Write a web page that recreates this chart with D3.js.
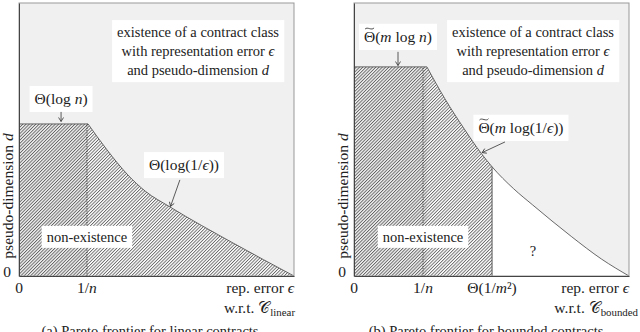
<!DOCTYPE html>
<html>
<head>
<meta charset="utf-8">
<script src="https://cdn.jsdelivr.net/npm/d3@7"></script>
<style>
body { margin: 0; background: #fff; }
</style>
</head>
<body>
<svg id="chart" width="640" height="332"></svg>
<script>
// values, both axes normalised to [0,1]
var linearEps = [0.251, 0.32, 0.396, 0.46, 0.549, 0.778, 1];
var linearDim = [0.557, 0.462, 0.37, 0.31, 0.253, 0.121, 0];
var linearOneOverN = 0.247;

var boundedEps = [0.265, 0.33, 0.40, 0.462, 0.502, 0.58, 0.65, 0.79, 0.90, 1];
var boundedDim = [0.766, 0.65, 0.54, 0.45, 0.40, 0.32, 0.26, 0.145, 0.062, 0];
var boundedOneOverN = 0.251;
var boundedCut = 0.502;   // Θ(1/m²)

var linearTicks = [0, linearOneOverN];
var linearTickLabels = [[["0"]], [["1/"], ["n", "i"]]];
var boundedTicks = [0, boundedOneOverN, boundedCut];
var boundedTickLabels = [[["0"]], [["1/"], ["n", "i"]], [["Θ(1/"], ["m", "i"], ["²)"]]];

var svg = d3.select("#chart");
var defs = svg.append("defs");

var hatch = defs.append("pattern")
    .attr("id", "hatch")
    .attr("patternUnits", "userSpaceOnUse")
    .attr("width", 2.3).attr("height", 2.3)
    .attr("patternTransform", "rotate(45)");
hatch.append("line")
    .attr("x1", 0.5).attr("y1", 0).attr("x2", 0.5).attr("y2", 2.3)
    .attr("stroke", "#3a3a3a").attr("stroke-width", 0.7);

defs.append("marker")
    .attr("id", "arr")
    .attr("viewBox", "-5 -3 6 6")
    .attr("refX", 0).attr("refY", 0)
    .attr("markerWidth", 6).attr("markerHeight", 6)
    .attr("markerUnits", "userSpaceOnUse")
    .attr("orient", "auto")
  .append("path")
    .attr("d", "M-4,-2.5L0,0L-4,2.5")
    .attr("fill", "none").attr("stroke", "#333").attr("stroke-width", 0.8);

// text made of parts: [string, style]; "t" = letter with a tilde on top
function rich(g, x, y, parts, anchor, size) {
    size = size || 14;
    var t = g.append("text")
        .attr("x", x).attr("y", y)
        .attr("text-anchor", anchor || "middle")
        .style("font-family", "Liberation Serif")
        .style("font-size", size + "px")
        .attr("fill", "#222");
    var tildes = [];
    var pos = 0;
    parts.forEach(function (p) {
        var s = t.append("tspan").text(p[0]);
        if (p[1] == "i") s.style("font-style", "italic");
        if (p[1] == "sub") s.attr("dy", 3).style("font-size", (size * 0.7) + "px");
        if (p[1] == "t") tildes.push(pos);
        pos += p[0].length;
    });
    tildes.forEach(function (k) {
        var n = t.node();
        var a = n.getStartPositionOfChar(k), b = n.getEndPositionOfChar(k);
        var cx = (a.x + b.x) / 2, w = (b.x - a.x) * 0.8, ty = a.y - size * 0.9;
        g.append("path")
            .attr("d", "M" + (cx - w / 2) + "," + (ty + 1) +
                "C" + (cx - w / 4) + "," + (ty - 1.8) + " " + (cx + w / 4) + "," + (ty + 3) + " " + (cx + w / 2) + "," + (ty - 0.3))
            .attr("fill", "none").attr("stroke", "#222").attr("stroke-width", 0.8);
    });
    return t;
}

// white box behind a few lines of text
function boxed(g, x, y, lines, pad, size) {
    var bg = g.append("g");
    var rect = bg.append("rect").attr("fill", "#fff");
    lines.forEach(function (l, i) { rich(bg, x, y + i * 19, l, "middle", size); });
    var b = bg.node().getBBox();
    rect.attr("x", b.x - pad[0]).attr("y", b.y - pad[1])
        .attr("width", b.width + 2 * pad[0]).attr("height", b.height + 2 * pad[1]);
}

function drawPanel(cfg) {
    var g = svg.append("g");
    var top = 3, bottom = 276;
    var x = d3.scaleLinear().domain([0, 1]).range([cfg.left, cfg.right]);
    var y = d3.scaleLinear().domain([0, 1]).range([bottom, top]);

    var pts = cfg.eps.map(function (e, i) { return [e, cfg.dim[i]]; });
    var plateau = cfg.dim[0];

    g.append("rect")
        .attr("x", x(0)).attr("y", y(1))
        .attr("width", x(1) - x(0)).attr("height", y(0) - y(1))
        .attr("fill", "#f0f0f0");

    var area = d3.area()
        .x(function (d) { return x(d[0]); })
        .y0(y(0))
        .y1(function (d) { return y(d[1]); })
        .curve(d3.curveMonotoneX);
    var line = d3.line()
        .x(function (d) { return x(d[0]); })
        .y(function (d) { return y(d[1]); })
        .curve(d3.curveMonotoneX);

    // under the curve: white where unknown
    g.append("path").attr("d", area(pts)).attr("fill", "#fff");

    var clipId = "clip" + cfg.id;
    defs.append("clipPath").attr("id", clipId)
      .append("rect")
        .attr("x", x(0)).attr("y", y(1))
        .attr("width", x(cfg.cut) - x(0)).attr("height", y(0) - y(1));

    var hg = g.append("g").attr("clip-path", "url(#" + clipId + ")");
    hg.append("rect")
        .attr("x", x(0)).attr("y", y(plateau))
        .attr("width", x(cfg.eps[0]) - x(0)).attr("height", y(0) - y(plateau))
        .attr("fill", "url(#hatch)");
    hg.append("path").attr("d", area(pts)).attr("fill", "url(#hatch)");

    // frontier
    g.append("line")
        .attr("x1", x(0)).attr("x2", x(cfg.eps[0]))
        .attr("y1", y(plateau)).attr("y2", y(plateau))
        .attr("stroke", "#444").attr("stroke-width", 0.8);
    g.append("path").attr("d", line(pts))
        .attr("fill", "none").attr("stroke", "#444").attr("stroke-width", 0.8);

    if (cfg.cut < 1) {
        var cutDim = cfg.dim[cfg.eps.indexOf(cfg.cut)];
        g.append("line")
            .attr("x1", x(cfg.cut)).attr("x2", x(cfg.cut))
            .attr("y1", y(0)).attr("y2", y(cutDim))
            .attr("stroke", "#555").attr("stroke-width", 1);
    }

    g.append("line")
        .attr("x1", x(cfg.oneOverN)).attr("x2", x(cfg.oneOverN))
        .attr("y1", y(0)).attr("y2", y(plateau))
        .attr("stroke", "#333").attr("stroke-width", 0.9)
        .attr("stroke-dasharray", "1,1.3");

    // frame
    g.append("rect")
        .attr("x", x(0)).attr("y", y(1))
        .attr("width", x(1) - x(0)).attr("height", y(0) - y(1))
        .attr("fill", "none").attr("stroke", "#999").attr("stroke-width", 1);

    g.append("g")
        .attr("transform", "translate(0," + y(0) + ")")
        .call(d3.axisBottom(x).tickValues([]).tickSizeOuter(0))
        .select(".domain").attr("stroke", "#444");
    g.append("g")
        .attr("transform", "translate(" + x(0) + ",0)")
        .call(d3.axisLeft(y).tickValues([]).tickSizeOuter(0))
        .select(".domain").attr("stroke", "#444");

    // tick labels
    var ts = 15.5;
    cfg.ticks.forEach(function (t, i) {
        rich(g, x(t), y(0) + 17, cfg.tickLabels[i], "middle", ts);
    });
    rich(g, x(0) - 12, y(0) + 1, [["0"]], "middle", ts);
    rich(g, x(1), y(0) + 17, [["rep. error "], ["ϵ", "i"]], "end", ts);
    rich(g, x(1) + cfg.wrtShift, y(0) + 37, [["w.r.t. "], ["𝒞"], [cfg.sub, "sub"]], "end", ts);

    rich(g, 0, 0, [["pseudo-dimension "], ["d", "i"]], "middle", ts)
        .attr("transform", "translate(" + (x(0) - 11) + ",196) rotate(-90)")
        .attr("dy", "0.35em");

    // annotations
    var a = cfg.notes;
    boxed(g, x(0.651), y(0.875), [
        [["existence of a contract class"]],
        [["with representation error "], ["ϵ", "i"]],
        [["and pseudo-dimension "], ["d", "i"]]
    ], [5, 4], 14.5);
    boxed(g, x(a.top[0]), y(a.top[1]), [a.topText], [5, 4], 15.5);
    g.append("line")
        .attr("x1", x(a.topArrow[0])).attr("y1", y(a.topArrow[1]))
        .attr("x2", x(a.topArrow[2])).attr("y2", y(a.topArrow[3]))
        .attr("stroke", "#333").attr("stroke-width", 0.8).attr("marker-end", "url(#arr)");
    boxed(g, x(a.curve[0]), y(a.curve[1]), [a.curveText], [5, 4], 15.5);
    g.append("line")
        .attr("x1", x(a.curveArrow[0])).attr("y1", y(a.curveArrow[1]))
        .attr("x2", x(a.curveArrow[2])).attr("y2", y(a.curveArrow[3]))
        .attr("stroke", "#333").attr("stroke-width", 0.8).attr("marker-end", "url(#arr)");
    boxed(g, x(a.none[0]), y(a.none[1]), [[["non-existence"]]], [5, 3], 14.5);
    if (a.unknown) rich(g, x(a.unknown[0]), y(a.unknown[1]), [["?"]], "middle", 14.5);

    rich(g, cfg.captionX, 336, cfg.caption, "middle", 14.5);
}

drawPanel({
    id: "a", left: 19, right: 294,
    eps: linearEps, dim: linearDim, cut: 1, oneOverN: linearOneOverN,
    ticks: linearTicks, tickLabels: linearTickLabels,
    sub: "linear", wrtShift: 1,
    captionX: 150,
    caption: [["(a) Pareto frontier for linear contracts"]],
    notes: {
        top: [0.153, 0.63], topText: [["Θ(log "], ["n", "i"], [")"]],
        topArrow: [0.153, 0.601, 0.153, 0.566],
        curve: [0.60, 0.388], curveText: [["Θ(log(1/"], ["ϵ", "i"], ["))"]],
        curveArrow: [0.585, 0.352, 0.551, 0.255],
        none: [0.247, 0.125]
    }
});

drawPanel({
    id: "b", left: 354, right: 629,
    eps: boundedEps, dim: boundedDim, cut: boundedCut, oneOverN: boundedOneOverN,
    ticks: boundedTicks, tickLabels: boundedTickLabels,
    sub: "bounded", wrtShift: 9,
    captionX: 486,
    caption: [["(b) Pareto frontier for bounded contracts"]],
    notes: {
        top: [0.16, 0.857], topText: [["Θ", "t"], ["("], ["m", "i"], [" log "], ["n", "i"], [")"]],
        topArrow: [0.16, 0.821, 0.16, 0.771],
        curve: [0.607, 0.524], curveText: [["Θ", "t"], ["("], ["m", "i"], [" log(1/"], ["ϵ", "i"], ["))"]],
        curveArrow: [0.549, 0.491, 0.466, 0.452],
        none: [0.251, 0.125],
        unknown: [0.651, 0.073]
    }
});
</script>
</body>
</html>
